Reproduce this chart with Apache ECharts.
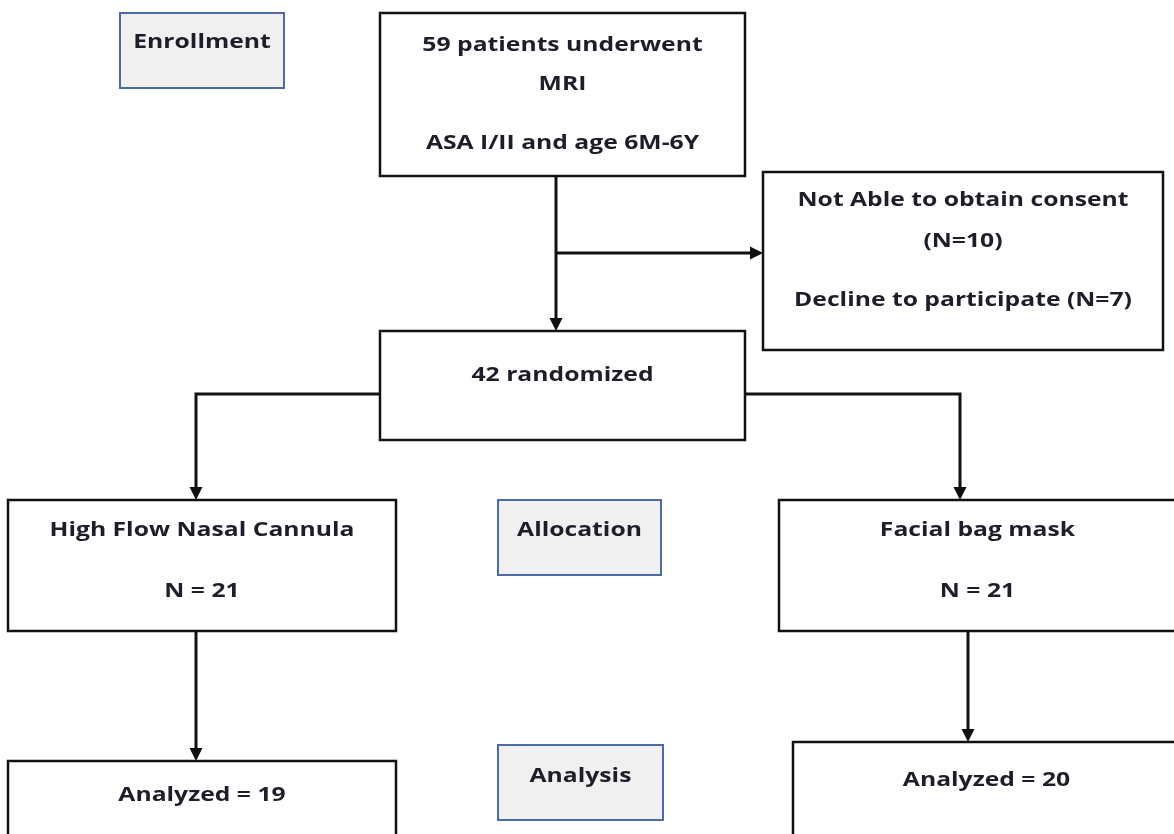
<!DOCTYPE html>
<html><head><meta charset="utf-8">
<script src="https://cdn.jsdelivr.net/npm/echarts@6/dist/echarts.min.js"></script>
<style>html,body{margin:0;padding:0;background:#fff}#c{width:1174px;height:834px}</style>
</head><body><div id="c"></div>
<script>
// ---- Text content (flow diagram nodes) ----
const stageLabels = ['Enrollment', 'Allocation', 'Analysis'];
const enrolledLines = ['59 patients underwent', 'MRI', 'ASA I/II and age 6M-6Y'];
const excludedLines = ['Not Able to obtain consent', '(N=10)', 'Decline to participate (N=7)'];
const randomizedLines = ['42 randomized'];
const hfncLines = ['High Flow Nasal Cannula', 'N = 21'];
const bagMaskLines = ['Facial bag mask', 'N = 21'];
const analyzedHfncLines = ['Analyzed = 19'];
const analyzedBagLines = ['Analyzed = 20'];

// ---- Layout (diagram units = pixels of the 1174x834 canvas) ----
const nodeLines = [[stageLabels[0]], enrolledLines, excludedLines, randomizedLines,
  [stageLabels[1]], hfncLines, bagMaskLines, [stageLabels[2]], analyzedHfncLines, analyzedBagLines];
const nodeKind = [1, 0, 0, 0, 1, 0, 0, 1, 0, 0];
const nodeRect = [[120,13,284,88],[380,13,745,176],[763,172,1163,350],[380,331,745,440],
  [498,500,661,575],[8,500,396,631],[779,500,1176,631],[498,745,663,820],[8,761,396,850],[793,742,1180,850]];
const nodeTextY = [[43],[46,85,144],[201,242,301],[376],[531],[531,592],[531,592],[777],[796],[781]];
const arrowPaths = [
  [[556,176],[556,331]],
  [[556,253],[763,253]],
  [[380,394],[196,394],[196,500]],
  [[745,394],[960,394],[960,500]],
  [[196,631],[196,761]],
  [[968,631],[968,742]]
];

const FONT = 'bold 19px "Open Sans", sans-serif';
const STRETCH = 1.3;
const chart = echarts.init(document.getElementById('c'), null, {renderer: 'canvas'});

function renderBox(params, api) {
  const i = params.dataIndex;
  const r = nodeRect[i];
  const p0 = api.coord([r[0], r[1]]);
  const p1 = api.coord([r[2], r[3]]);
  const stage = nodeKind[i] === 1;
  const cx = (p0[0] + p1[0]) / 2;
  const children = [{
    type: 'rect',
    shape: {x: p0[0], y: p0[1], width: p1[0] - p0[0], height: p1[1] - p0[1]},
    style: {fill: stage ? '#f0f0f0' : '#ffffff', stroke: stage ? '#4a6aa8' : '#111111', lineWidth: stage ? 2 : 2.5}
  }];
  nodeLines[i].forEach((t, k) => {
    const py = api.coord([0, nodeTextY[i][k]])[1];
    children.push({
      type: 'text',
      x: cx, y: py, scaleX: STRETCH, scaleY: 1,
      style: {text: t, x: 0, y: 0, font: FONT, fill: '#1e1e2a',
        align: 'center', verticalAlign: 'middle', textAlign: 'center', textVerticalAlign: 'middle'}
    });
  });
  return {type: 'group', children};
}

function renderArrow(params, api) {
  const pts = arrowPaths[params.dataIndex].map(p => api.coord(p));
  const n = pts.length;
  const a = pts[n - 2], b = pts[n - 1];
  const dx = b[0] - a[0], dy = b[1] - a[1];
  const len = Math.sqrt(dx * dx + dy * dy);
  const ux = dx / len, uy = dy / len;
  const headLen = 13, headHalf = 6.5;
  const base = [b[0] - ux * headLen, b[1] - uy * headLen];
  const linePts = pts.slice(0, n - 1).concat([base]);
  return {
    type: 'group',
    children: [
      {type: 'polyline', shape: {points: linePts}, style: {stroke: '#111', lineWidth: 3, fill: null, lineJoin: 'miter'}},
      {type: 'polygon', shape: {points: [b, [base[0] - uy * headHalf, base[1] + ux * headHalf], [base[0] + uy * headHalf, base[1] - ux * headHalf]]},
        style: {fill: '#111'}}
    ]
  };
}

chart.setOption({
  animation: false,
  backgroundColor: '#ffffff',
  grid: {left: 0, right: 0, top: 0, bottom: 0},
  xAxis: {type: 'value', min: 0, max: 1174, show: false},
  yAxis: {type: 'value', min: 0, max: 834, inverse: true, show: false},
  series: [
    {type: 'custom', coordinateSystem: 'cartesian2d', clip: false, renderItem: renderArrow,
      data: arrowPaths.map((p, i) => [p[0][0], p[0][1]]), z: 2},
    {type: 'custom', coordinateSystem: 'cartesian2d', clip: false, renderItem: renderBox,
      data: nodeRect.map(r => [r[0], r[1]]), z: 3}
  ]
});
</script></body></html>
